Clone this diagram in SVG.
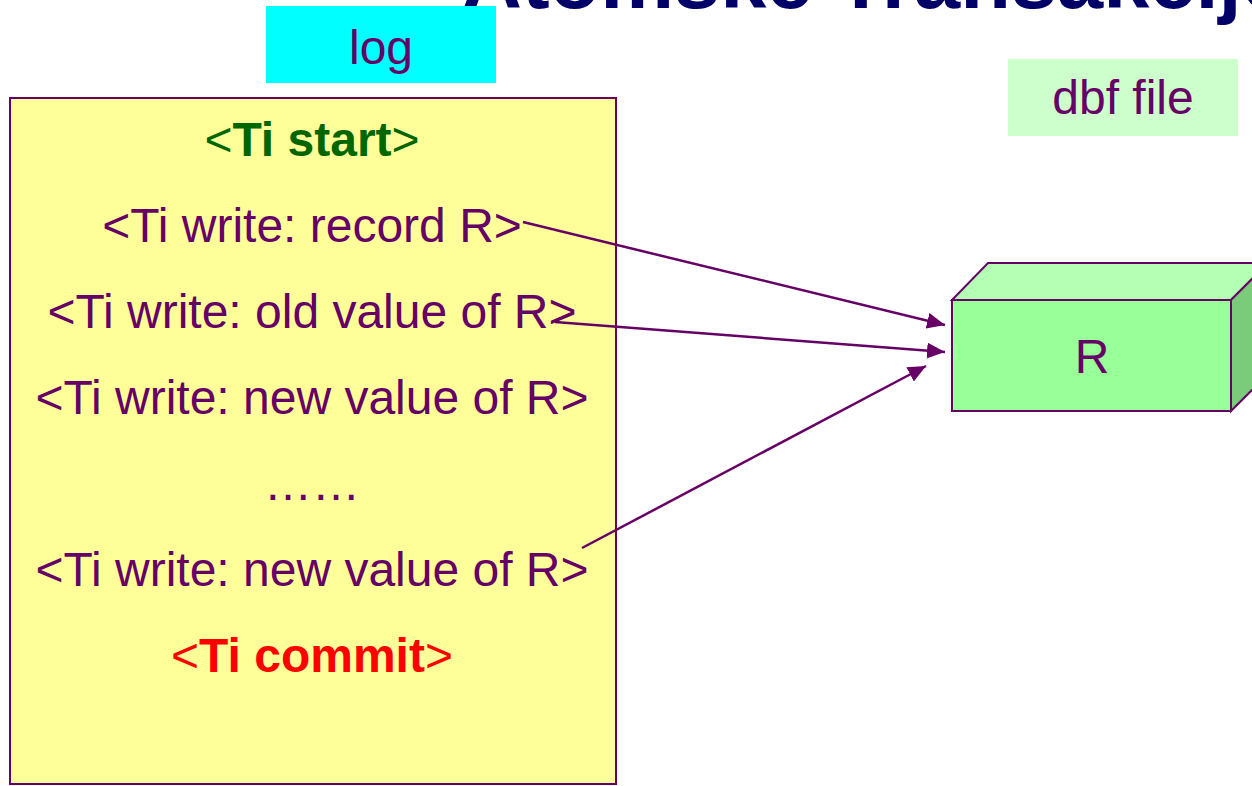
<svg xmlns="http://www.w3.org/2000/svg" width="1252" height="786" viewBox="0 0 1252 786">
  <style>
    .t { font-family: "Liberation Sans", Arial, sans-serif; font-size: 48px; fill: #660066; }
    .mid { text-anchor: middle; }
    .b { font-weight: bold; }
    .edge { stroke: #660066; stroke-width: 2.5; fill: none; marker-end: url(#head); }
    .outline { stroke: #660066; stroke-width: 2; }
  </style>
  <defs>
    <marker id="head" markerUnits="userSpaceOnUse" markerWidth="19" markerHeight="16" refX="18" refY="8" orient="auto">
      <path d="M0,0 L18,8 L0,16 z" fill="#660066"/>
    </marker>
  </defs>

  <rect width="1252" height="786" fill="#ffffff"/>

  <!-- slide title, mostly above the top edge -->
  <text id="title" x="462" y="8" font-family="Liberation Sans, Arial, sans-serif" font-size="83" font-weight="bold" fill="#000066">Atomske Transakcije</text>

  <!-- log label -->
  <g id="log-label">
    <rect x="266" y="6" width="230" height="77" fill="#00ffff"/>
    <text class="t mid" x="381" y="64">log</text>
  </g>

  <!-- log contents -->
  <g id="log">
    <rect class="outline" x="10" y="98" width="606" height="686" fill="#ffff99"/>
    <text class="t mid" x="312" y="156" style="fill:#006600">&lt;<tspan class="b">Ti start</tspan>&gt;</text>
    <text class="t mid" x="312" y="242">&lt;Ti write: record R&gt;</text>
    <text class="t mid" x="312" y="328">&lt;Ti write: old value of R&gt;</text>
    <text class="t mid" x="312" y="414">&lt;Ti write: new value of R&gt;</text>
    <text class="t mid" x="312" y="500">……</text>
    <text class="t mid" x="312" y="586">&lt;Ti write: new value of R&gt;</text>
    <text class="t mid" x="312" y="672" style="fill:#ff0000">&lt;<tspan class="b">Ti commit</tspan>&gt;</text>
  </g>

  <!-- dbf file label -->
  <g id="dbf-label">
    <rect x="1008" y="59" width="230" height="77" fill="#ccffcc"/>
    <text class="t mid" x="1123" y="114">dbf file</text>
  </g>

  <!-- record R drawn as a block -->
  <g id="record-r">
    <polygon class="outline" points="952,300 988,263 1268,263 1231,300" fill="#b3ffb3"/>
    <polygon class="outline" points="1231,300 1268,263 1268,374 1231,411" fill="#7acc7a"/>
    <rect class="outline" x="952" y="300" width="279" height="111" fill="#99ff99"/>
    <text class="t mid" x="1092" y="373">R</text>
  </g>

  <!-- writes flowing into R -->
  <g id="connectors">
    <line class="edge" x1="523" y1="222" x2="945" y2="325"/>
    <line class="edge" x1="555" y1="322" x2="945" y2="352"/>
    <line class="edge" x1="582" y1="548" x2="926" y2="366"/>
  </g>
</svg>
